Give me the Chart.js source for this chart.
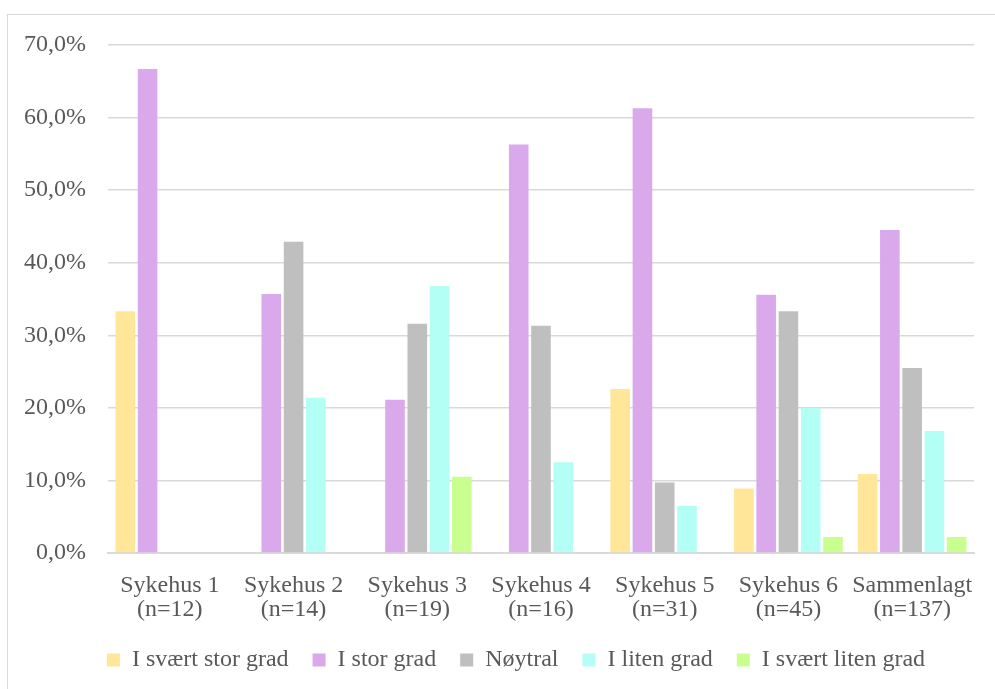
<!DOCTYPE html>
<html>
<head>
<meta charset="utf-8">
<script src="https://cdn.jsdelivr.net/npm/chart.js@4/dist/chart.umd.min.js"></script>
<style>
    html, body { margin: 0; padding: 0; background: #ffffff; overflow: hidden; }
    #wrap { position: relative; width: 995px; height: 689px; }
    #frame {
        position: absolute; left: 7px; top: 14px;
        width: 1000px; height: 700px;
        border: 1.5px solid #d9d9d9; box-sizing: border-box;
    }
    #chart { position: absolute; left: 0; top: 0; }
</style>
</head>
<body>
<div id="wrap">
    <div id="frame"></div>
    <canvas id="chart" width="995" height="689"></canvas>
</div>
<script>

// categories (hospital + number of answers)
var categories = [
    ["Sykehus 1", "(n=12)"],
    ["Sykehus 2", "(n=14)"],
    ["Sykehus 3", "(n=19)"],
    ["Sykehus 4", "(n=16)"],
    ["Sykehus 5", "(n=31)"],
    ["Sykehus 6", "(n=45)"],
    ["Sammenlagt", "(n=137)"]
];

var seriesNames = [
    "I svært stor grad",
    "I stor grad",
    "Nøytral",
    "I liten grad",
    "I svært liten grad"
];

// percentages per answer
var sværtStor = [33.3, 0, 0, 0, 22.6, 8.9, 10.9];
var stor      = [66.7, 35.7, 21.1, 56.3, 61.3, 35.6, 44.5];
var nøytral   = [0, 42.9, 31.6, 31.3, 9.7, 33.3, 25.5];
var liten     = [0, 21.4, 36.8, 12.5, 6.5, 20.0, 16.8];
var sværtLiten = [0, 0, 10.5, 0, 0, 2.2, 2.2];

var yTicks = [0, 10, 20, 30, 40, 50, 60, 70];

var colors = ["#FFE699", "#DAA9EB", "#BFBFBF", "#B3FFF6", "#C9FF8E"];

var seriesValues = [sværtStor, stor, nøytral, liten, sværtLiten];

var font = "'Liberation Serif', 'Times New Roman', serif";
var textColor = "#595959";
var gridColor = "#d9d9d9";

Chart.defaults.font.family = font;
Chart.defaults.color = textColor;

var datasets = seriesNames.map(function (name, i) {
    return {
        label: name,
        data: seriesValues[i],
        backgroundColor: colors[i],
        categoryPercentage: 0.9,
        barPercentage: 0.88
    };
});

// nudge the legend row to the right
var legendShift = {
    id: "legendShift",
    afterLayout: function (chart) {
        chart.legend.left += 29;
        chart.legend.right += 29;
    }
};

new Chart(document.getElementById("chart"), {

    type: "bar",

    data: {
        labels: categories,
        datasets: datasets
    },

    plugins: [legendShift],

    options: {
        responsive: false,
        animation: false,

        layout: {
            padding: { top: 45, right: 21, bottom: 7, left: 0 }
        },

        plugins: {
            tooltip: { enabled: false },
            legend: {
                position: "bottom",
                labels: {
                    boxWidth: 13,
                    boxHeight: 13,
                    padding: 24,
                    color: textColor,
                    font: { size: 24, family: font }
                }
            }
        },

        scales: {
            x: {
                grid: { display: false, drawTicks: false },
                border: { color: gridColor, width: 2 },
                ticks: {
                    padding: 21,
                    color: textColor,
                    font: { size: 24, family: font, lineHeight: 1 },
                    maxRotation: 0
                },
                afterFit: function (scale) {
                    scale.height = 71;
                }
            },
            y: {
                min: 0,
                max: 70,
                afterBuildTicks: function (scale) {
                    scale.ticks = yTicks.map(function (v) { return { value: v }; });
                },
                grid: { color: gridColor, lineWidth: 1.5, drawTicks: false },
                border: { display: false },
                ticks: {
                    padding: 22,
                    color: textColor,
                    font: { size: 24, family: font },
                    callback: function (v) {
                        return v.toFixed(1).replace(".", ",") + "%";
                    }
                },
                afterFit: function (scale) {
                    scale.width = 108;
                }
            }
        }
    }
});
</script>
</body>
</html>
